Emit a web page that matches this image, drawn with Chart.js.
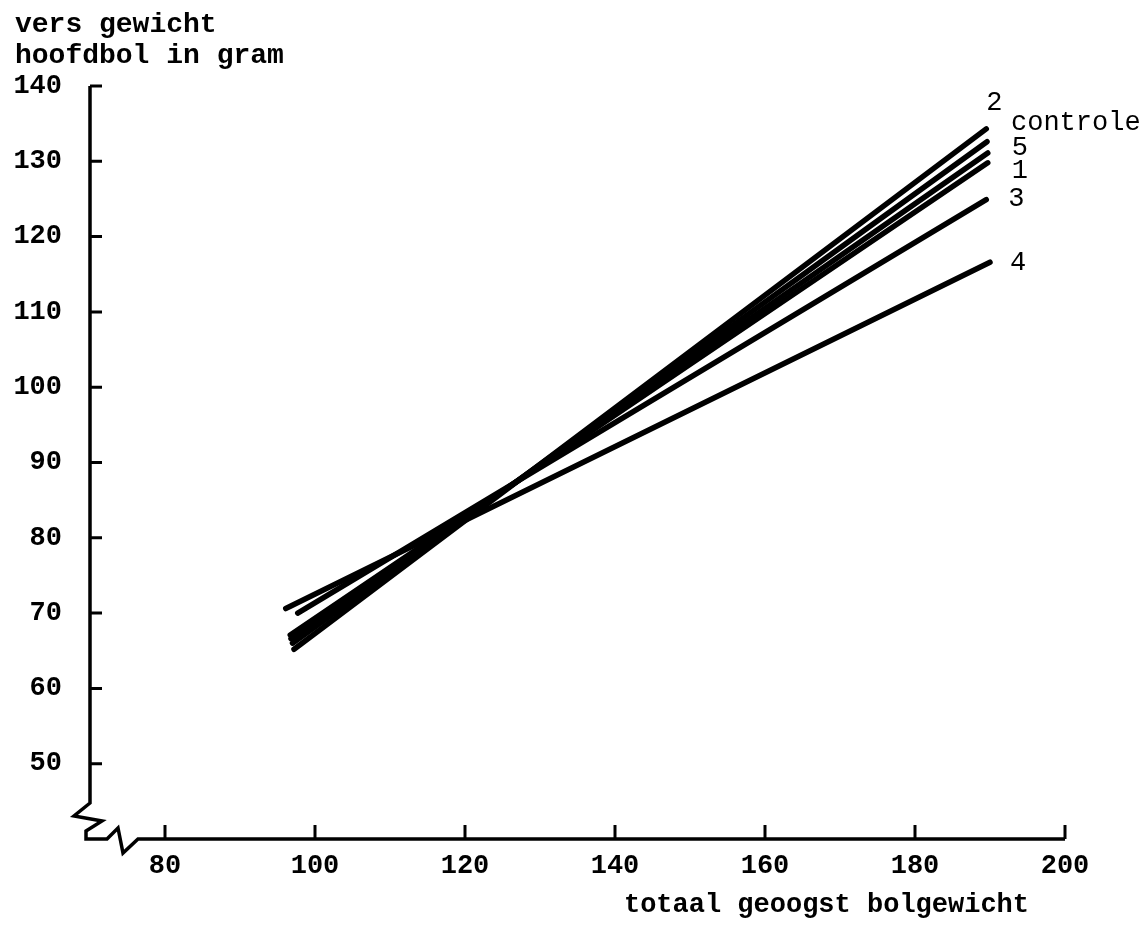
<!DOCTYPE html>
<html>
<head>
<meta charset="utf-8">
<script src="https://cdn.jsdelivr.net/npm/chart.js@4"></script>
<style>
  body { margin: 0; background: #fff; }
  #wrap { width: 1144px; height: 933px; position: relative; }
</style>
</head>
<body>
<div id="wrap"><canvas id="myChart"></canvas></div>
<script>
// regression lines: one start and one end point per treatment
let series = ['2', 'controle', '5', '1', '3', '4'];
let startX = [97.2, 97.0, 96.8, 96.7, 97.7, 96.1];
let startY = [65.2, 66.0, 66.6, 67.1, 70.0, 70.6];
let endX   = [189.5, 189.6, 189.7, 189.7, 189.5, 190.0];
let endY   = [134.3, 132.6, 131.1, 129.8, 124.9, 116.6];

let xTicks = [80, 100, 120, 140, 160, 180, 200];
let yTicks = [50, 60, 70, 80, 90, 100, 110, 120, 130, 140];

let yTitle = ['vers gewicht', 'hoofdbol in gram'];
let xTitle = 'totaal geoogst bolgewicht';

let FONT = '"Liberation Mono", "DejaVu Sans Mono", monospace';

let datasets = series.map((name, i) => ({
  label: name,
  data: [{x: startX[i], y: startY[i]}, {x: endX[i], y: endY[i]}],
  showLine: true,
  borderColor: '#000',
  backgroundColor: '#000',
  borderWidth: 5.5,
  borderCapStyle: 'round',
  pointRadius: 0
}));

// label placement next to the line ends (dx, dy in px)
let labelShift = [[0, -19], [24, -12], [24, 2], [24, 15], [22, 6], [20, 8]];

let handAxes = {
  id: 'handAxes',
  afterDraw(chart) {
    let {ctx, chartArea} = chart;
    let x = chart.scales.x, y = chart.scales.y;
    let L = chartArea.left, B = chartArea.bottom;
    ctx.save();
    ctx.strokeStyle = '#000';
    ctx.lineWidth = 3.5;
    ctx.lineJoin = 'miter';

    // axis with break
    ctx.beginPath();
    ctx.moveTo(L, y.getPixelForValue(140));
    ctx.lineTo(L, B - 36);
    ctx.lineTo(L - 16, B - 23);
    ctx.lineTo(L + 12, B - 18);
    ctx.lineTo(L - 4, B - 8);
    ctx.lineTo(L - 4, B);
    ctx.lineTo(L + 17, B);
    ctx.lineTo(L + 28, B - 11);
    ctx.lineTo(L + 33, B + 14);
    ctx.lineTo(L + 48, B);
    ctx.lineTo(x.getPixelForValue(200), B);
    ctx.stroke();

    // inward tick marks
    ctx.lineWidth = 3;
    ctx.beginPath();
    yTicks.forEach(v => {
      let py = y.getPixelForValue(v);
      ctx.moveTo(L, py);
      ctx.lineTo(L + 12, py);
    });
    xTicks.forEach(v => {
      let px = x.getPixelForValue(v);
      ctx.moveTo(px, B);
      ctx.lineTo(px, B - 14);
    });
    ctx.stroke();

    // series labels
    ctx.fillStyle = '#000';
    ctx.textAlign = 'left';
    ctx.textBaseline = 'alphabetic';
    ctx.font = '27px ' + FONT;
    series.forEach((name, i) => {
      let px = x.getPixelForValue(endX[i]);
      let py = y.getPixelForValue(endY[i]);
      ctx.fillText(name, px + labelShift[i][0], py + labelShift[i][1]);
    });

    // axis titles
    ctx.font = 'bold 28px ' + FONT;
    ctx.fillText(yTitle[0], 15, 32);
    ctx.fillText(yTitle[1], 15, 63);
    ctx.font = 'bold 27px ' + FONT;
    ctx.textAlign = 'right';
    ctx.fillText(xTitle, x.getPixelForValue(200) - 36, B + 73);
    ctx.restore();
  }
};

let ctx = document.getElementById('myChart').getContext('2d');

let myChart = new Chart(ctx, {
  type: 'scatter',
  data: { datasets: datasets },
  options: {
    responsive: true,
    maintainAspectRatio: false,
    animation: false,
    layout: { padding: { top: 86, right: 79, bottom: 0, left: 0 } },
    plugins: {
      legend: { display: false },
      tooltip: { enabled: false }
    },
    scales: {
      x: {
        type: 'linear',
        min: 70,
        max: 200,
        grid: { display: false },
        border: { display: false },
        afterBuildTicks: s => { s.ticks = xTicks.map(v => ({value: v})); },
        afterFit: s => { s.height = 94; },
        ticks: {
          padding: 3,
          color: '#000',
          autoSkip: false,
          maxRotation: 0,
          font: { family: FONT, size: 27, weight: 'bold' }
        }
      },
      y: {
        type: 'linear',
        min: 40,
        max: 140,
        grid: { display: false },
        border: { display: false },
        afterBuildTicks: s => { s.ticks = yTicks.map(v => ({value: v})); },
        afterFit: s => { s.width = 90; },
        ticks: {
          padding: 20,
          color: '#000',
          autoSkip: false,
          font: { family: FONT, size: 27, weight: 'bold' }
        }
      }
    }
  },
  plugins: [handAxes]
});
</script>
</body>
</html>
